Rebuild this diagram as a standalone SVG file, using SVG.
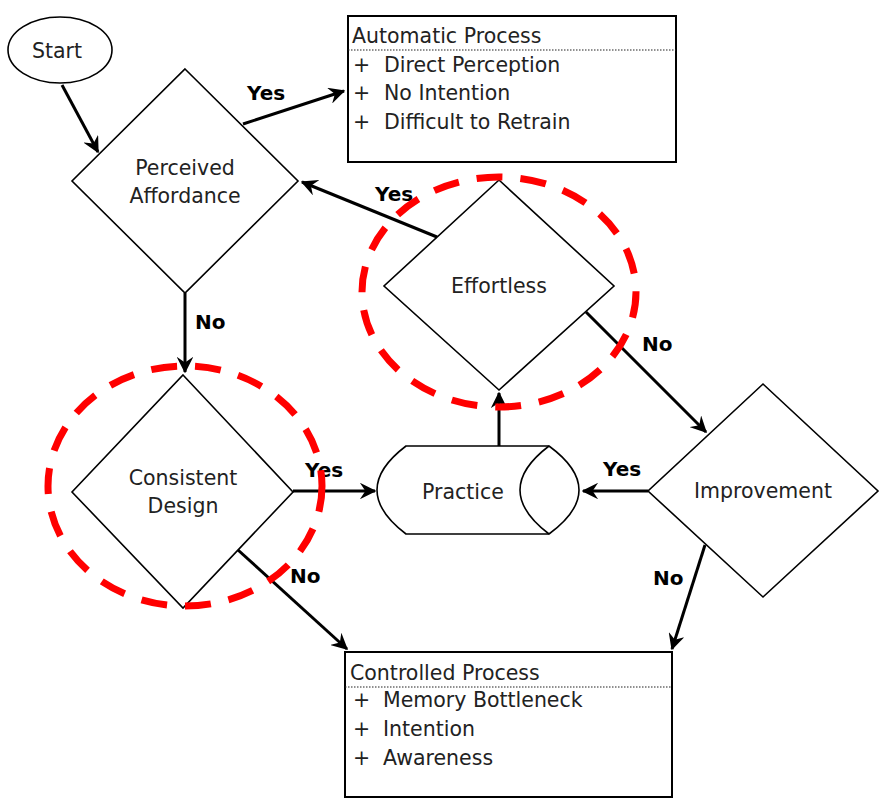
<svg xmlns="http://www.w3.org/2000/svg" width="883" height="803" viewBox="0 0 883 803">
<defs>
<marker id="ah" viewBox="0 0 12 12" refX="11" refY="6" markerWidth="5.5" markerHeight="5.5" orient="auto" markerUnits="strokeWidth">
<path d="M0,0 L12,6 L0,12 L4,6 Z" fill="#000"/>
</marker>
<style>
.shape{fill:#fff;stroke:#000;stroke-width:1.6}
.box{fill:#fff;stroke:#000;stroke-width:2}
.t{font-family:"DejaVu Sans",Verdana,sans-serif;font-size:20.5px;fill:#222}
.lbl{font-family:"DejaVu Sans",Verdana,sans-serif;font-size:20px;font-weight:bold;fill:#000}
.c{stroke:#000;stroke-width:3;fill:none;marker-end:url(#ah)}
.dot{stroke:#222;stroke-width:1.2;stroke-dasharray:1.5 1.5}
.red{fill:none;stroke:#f00;stroke-width:7;stroke-dasharray:26 18}
</style>
</defs>
<rect width="883" height="803" fill="#fff"/>
<g id="start"><ellipse class="shape" cx="60" cy="50" rx="52" ry="33"/><text class="t" x="57" y="58" text-anchor="middle">Start</text></g>
<g id="perceived"><polygon class="shape" points="185,69 298,181 185,293 72,181"/><text class="t" x="185" y="175" text-anchor="middle">Perceived</text><text class="t" x="185" y="203" text-anchor="middle">Affordance</text></g>
<g id="automatic"><rect class="box" x="348" y="16" width="328" height="146"/><text class="t" x="352" y="43">Automatic Process</text><line class="dot" x1="348" y1="50" x2="676" y2="50"/><text class="t" x="353" y="72">+</text><text class="t" x="384" y="72">Direct Perception</text><text class="t" x="353" y="100">+</text><text class="t" x="384" y="100">No Intention</text><text class="t" x="353" y="129">+</text><text class="t" x="384" y="129">Difficult to Retrain</text></g>
<g id="effortless"><polygon class="shape" points="499,180 614,286 499,390 384,286"/><text class="t" x="499" y="293" text-anchor="middle">Effortless</text></g>
<g id="consistent"><polygon class="shape" points="183,375 293,492 183,608 72,492"/><text class="t" x="183" y="485" text-anchor="middle">Consistent</text><text class="t" x="183" y="513" text-anchor="middle">Design</text></g>
<g id="practice"><path class="shape" d="M406,446 L549,446 Q609,490 549,534 L406,534 Q348,490 406,446 Z"/><path class="shape" fill="none" d="M549,446 Q491,490 549,534"/><text class="t" x="463" y="499" text-anchor="middle">Practice</text></g>
<g id="improvement"><polygon class="shape" points="763,384 878,491 763,597 648,491"/><text class="t" x="763" y="498" text-anchor="middle">Improvement</text></g>
<g id="controlled"><rect class="box" x="345" y="652" width="327" height="145"/><text class="t" x="350" y="680">Controlled Process</text><line class="dot" x1="345" y1="687" x2="672" y2="687"/><text class="t" x="353" y="707">+</text><text class="t" x="383" y="707">Memory Bottleneck</text><text class="t" x="353" y="736">+</text><text class="t" x="383" y="736">Intention</text><text class="t" x="353" y="765">+</text><text class="t" x="383" y="765">Awareness</text></g>
<g id="connectors">
<line class="c" x1="62" y1="85" x2="98" y2="152"/>
<line class="c" x1="243" y1="124" x2="344" y2="91"/>
<line class="c" x1="437" y1="237" x2="302" y2="182"/>
<line class="c" x1="185" y1="293" x2="185" y2="372"/>
<line class="c" x1="293" y1="491" x2="375" y2="491"/>
<line class="c" x1="499" y1="446" x2="499" y2="393"/>
<line class="c" x1="586" y1="312" x2="706" y2="432"/>
<line class="c" x1="648" y1="491" x2="583" y2="491"/>
<line class="c" x1="705" y1="545" x2="672" y2="649"/>
<line class="c" x1="238" y1="550" x2="347" y2="649"/>
<text class="lbl" x="247" y="100">Yes</text>
<text class="lbl" x="375" y="201">Yes</text>
<text class="lbl" x="195" y="329">No</text>
<text class="lbl" x="305" y="477">Yes</text>
<text class="lbl" x="603" y="476">Yes</text>
<text class="lbl" x="642" y="351">No</text>
<text class="lbl" x="290" y="583">No</text>
<text class="lbl" x="653" y="585">No</text>
</g>
<g id="highlights">
<ellipse class="red" cx="499" cy="292" rx="137" ry="115"/>
<ellipse class="red" cx="185" cy="486" rx="137" ry="120"/>
</g>
</svg>
